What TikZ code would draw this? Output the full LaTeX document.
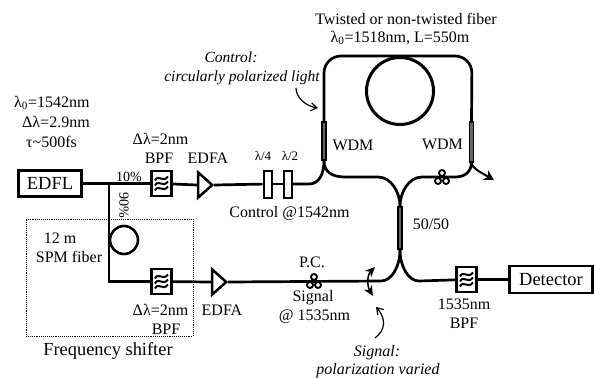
\documentclass[tikz,border=0pt]{standalone}
\usepackage{fontspec}
\setmainfont{Liberation Serif}
\usepackage{xcolor}
\usetikzlibrary{positioning,shapes.geometric,arrows.meta}

\begin{document}
\begin{tikzpicture}[
  x=1pt, y=-1pt,
  unitbox/.style={rectangle, draw, line width=2.9pt, fill=white, inner sep=0pt, font=\fontsize{18.5}{20}\selectfont},
  bpf/.style={rectangle, draw, line width=2.5pt, fill=white, minimum width=20pt, minimum height=25pt, inner sep=0pt},
  amp/.style={isosceles triangle, isosceles triangle apex angle=88, draw, line width=2.5pt, fill=white, minimum height=14pt, minimum width=25pt, isosceles triangle stretches=true, inner sep=0pt, anchor=apex},
  plate/.style={rectangle, draw, line width=2pt, fill=white, minimum width=8pt, minimum height=27pt, inner sep=0pt},
  coupler/.style={rectangle, draw, line width=1.7pt, fill=black!60, minimum width=4pt, inner sep=0pt},
  lab/.style={inner sep=0pt, font=\fontsize{16}{18}\selectfont},
  ital/.style={inner sep=0pt, font=\fontsize{15.5}{18}\selectfont\itshape},
  fiber/.style={line width=2.7pt},
  note/.style={-{Straight Barb[length=6pt,width=8pt]}, line width=1.2pt},
]
  \useasboundingbox (0,0) rectangle (594,378);

  \node[draw, densely dotted, line width=0.9pt, minimum width=167pt, minimum height=117pt, inner sep=0pt] (shifter) at (109.5,277.5) {};

  \node[unitbox, minimum width=63pt, minimum height=26pt] (edfl) at (50,183.5) {EDFL};
  \node[bpf] (bpfa) at (161.5,183.5) {};
  \node[amp] (edfaa) at (214,185) {};
  \node[plate] (qwp) at (267.5,184) {};
  \node[plate] (hwp) at (287.5,184) {};
  \node[coupler, minimum height=38pt] (wdma) at (324,141) {};
  \node[coupler, minimum height=40pt] (wdmb) at (471.5,142) {};
  \node[coupler, minimum height=42pt] (split) at (400,228) {};
  \node[bpf] (bpfb) at (161.5,281.5) {};
  \node[amp] (edfab) at (228,282) {};
  \node[bpf] (bpfc) at (466.5,279.5) {};
  \node[unitbox, minimum width=83pt, minimum height=27pt] (detector) at (551,279.5) {Detector};
  \node[circle, draw, line width=3pt, minimum size=67pt, inner sep=0pt] (coil) at (400,91) {};
  \node[circle, draw, line width=2.6pt, minimum size=28pt, inner sep=0pt] (spm) at (124,240) {};

  \coordinate (tap) at (109,184);
  \coordinate (bend) at (109,281.5);
  \coordinate (out) at (494,180);
  \coordinate (pca) at (442,177);
  \coordinate (pcb) at (314,281);

  \draw[fiber] (edfl) -- (bpfa);
  \draw[fiber] (bpfa) -- (edfaa.west);
  \draw[fiber] (edfaa.apex) -- (qwp);
  \draw[fiber] (qwp) -- (hwp);
  \draw[fiber] (hwp.east) -- (309,184) .. controls (319,184) and (324,174) .. (wdma.south);
  \draw[fiber, rounded corners=17pt] (wdma.north) -- (324,56) -- (472,56) -- (wdmb.north);
  \draw[fiber] (wdma.south) .. controls (324,172) and (332,177) .. (345,177) -- (378,177) .. controls (391,177) and (400,192) .. (split.north);
  \draw[fiber] (wdmb.south) .. controls (471,171) and (466,177) .. (455,177) -- (422,177) .. controls (409,177) and (400,192) .. (split.north);
  \draw[line width=2pt, -{Stealth[length=10pt,width=11pt]}] (wdmb.south) .. controls (472,168) and (480,172) .. (out);
  \draw[fiber] (tap) -- (bend) -- (bpfb);
  \draw[fiber] (bpfb) -- (edfab.west);
  \draw[fiber] (edfab.apex) -- (381,281) .. controls (392,281) and (400,266) .. (split.south);
  \draw[fiber] (split.south) .. controls (400,266) and (408,281) .. (419,281) -- (bpfc);
  \draw[fiber] (bpfc) -- (detector);

  \foreach \n in {bpfa,bpfb,bpfc} {
    \foreach \d in {-5,0,5} {
      \draw[line width=2pt, shift={(\n.center)}] (-6.5,\d+2) .. controls (-3,\d-5) and (1,\d+5) .. (6.5,\d-2);
    }
  }
  \foreach \n in {pca,pcb} {
    \draw[line width=1.9pt, shift={(\n)}] (0,-4) circle (3);
    \draw[line width=1.9pt, shift={(\n)}] (-4,4) circle (3);
    \draw[line width=1.9pt, shift={(\n)}] (4,4) circle (3);
  }

  \draw[note] (296,88) .. controls (296,98) and (306,106) .. (318,108);
  \draw[note] (375,338) .. controls (386,330) and (386,318) .. (376,307);
  \draw[line width=1.5pt, {Stealth[length=10pt,width=9pt]}-{Stealth[length=10pt,width=9pt]}] (375,267) .. controls (367,275) and (367,286) .. (373,296);

  \node[lab, anchor=west] (lambdazero) at (14,103) {λ\textsubscript{0}=1542nm};
  \node[lab, anchor=west] (bandwidth) at (22,122) {Δλ=2.9nm};
  \node[lab, anchor=west] (duration) at (26,142) {τ\textasciitilde500fs};
  \node[lab] (widtha) at (160.5,139) {Δλ=2nm};
  \node[lab] (bpfalab) at (159,158) {BPF};
  \node[lab] (edfaalab) at (208,158) {EDFA};
  \node[lab, font=\fontsize{13}{15}\selectfont] (qwplab) at (263,156) {λ/4};
  \node[lab, font=\fontsize{13}{15}\selectfont] (hwplab) at (290,156) {λ/2};
  \node[lab, font=\fontsize{14}{16}\selectfont] (tenpct) at (129,177) {10\%};
  \node[lab, font=\fontsize{14}{16}\selectfont, rotate=-90] (ninetypct) at (124,205) {90\%};
  \node[lab] (controllab) at (289.5,213) {Control @1542nm};
  \node[lab] (spmlen) at (60,238) {12 m};
  \node[lab] (spmlab) at (69,257) {SPM fiber};
  \node[lab] (widthb) at (160.5,310) {Δλ=2nm};
  \node[lab] (bpfblab) at (166,329) {BPF};
  \node[lab] (edfablab) at (222,310) {EDFA};
  \node[lab, font=\fontsize{18.4}{20}\selectfont] (shifterlab) at (108,351) {Frequency shifter};
  \node[lab] (pclab) at (312,262) {P.C.};
  \node[lab] (signallab) at (313,298) {Signal};
  \node[lab] (signalwl) at (314.5,317) {@ 1535nm};
  \node[lab] (splitlab) at (431,224) {50/50};
  \node[lab] (bpfcwl) at (464,304) {1535nm};
  \node[lab] (bpfclab) at (464,323) {BPF};
  \node[lab] (wdmalab) at (353,145) {WDM};
  \node[lab] (wdmblab) at (442.5,144) {WDM};
  \node[lab] (fibertitle) at (406,19) {Twisted or non-twisted fiber};
  \node[lab] (fiberspec) at (400,38) {λ\textsubscript{0}=1518nm, L=550m};
  \node[ital] (controlnote) at (231,57) {Control:};
  \node[ital] (controlpol) at (242,78) {circularly polarized light};
  \node[ital, font=\fontsize{16}{18}\selectfont\itshape] (signalnote) at (377,353) {Signal:};
  \node[ital, font=\fontsize{16}{18}\selectfont\itshape] (signalpol) at (378,371) {polarization varied};
\end{tikzpicture}
\end{document}
